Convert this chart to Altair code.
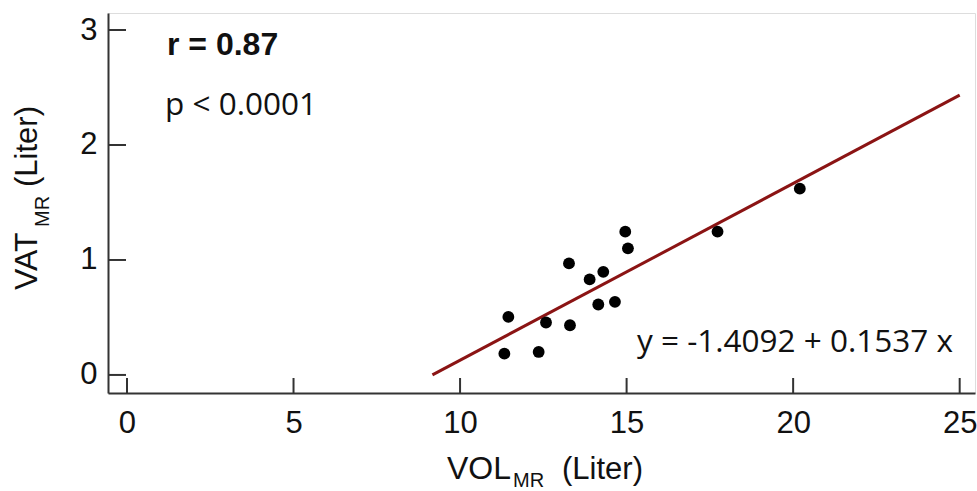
import altair as alt
import pandas as pd

# ---- data ----
vol_mr = [11.33, 11.45, 12.36, 12.58, 13.27, 13.30, 13.89, 14.15, 14.30, 14.65, 14.96, 15.04, 17.73, 20.20]
vat_mr = [0.185, 0.505, 0.200, 0.456, 0.970, 0.432, 0.831, 0.613, 0.897, 0.636, 1.246, 1.101, 1.246, 1.620]

intercept = -1.4092
slope = 0.1537
fit_x = [9.17, 25.0]

x_ticks = [0, 5, 10, 15, 20, 25]
y_ticks = [0, 1, 2, 3]

r_text = "r = 0.87"
p_text = "p < 0.0001"
eq_text = "y = -1.4092 + 0.1537 x"

pts = pd.DataFrame({"x": vol_mr, "y": vat_mr})
fit = pd.DataFrame({"x": fit_x, "y": [intercept + slope * v for v in fit_x]})

W, H = 867, 380
AX = "#333333"
LBL = "Liberation Sans"

xs = alt.Scale(domain=[-0.57, 25.46], nice=False, zero=False)
ys = alt.Scale(domain=[-0.157, 3.148], nice=False, zero=False)

x_axis = alt.Axis(values=x_ticks, ticks=False, grid=False, title=None, format="d",
                  domainColor=AX, domainWidth=2, labelFont=LBL, labelFontSize=31,
                  labelColor="#111111", labelPadding=15, labelFlush=False)
y_axis = alt.Axis(values=y_ticks, ticks=False, grid=False, title=None, format="d",
                  domainColor=AX, domainWidth=2, labelFont=LBL, labelFontSize=31,
                  labelColor="#111111", labelPadding=11)

points = alt.Chart(pts).mark_circle(size=140, color="black", opacity=1).encode(
    x=alt.X("x:Q", scale=xs, axis=x_axis),
    y=alt.Y("y:Q", scale=ys, axis=y_axis),
)

line = alt.Chart(fit).mark_line(color="#8B1414", strokeWidth=3).encode(
    x=alt.X("x:Q", scale=xs), y=alt.Y("y:Q", scale=ys)
)

ytick_rules = alt.Chart(pd.DataFrame({"v": y_ticks})).mark_rule(color=AX, strokeWidth=2).encode(
    y=alt.Y("v:Q", scale=ys), x=alt.value(0), x2=alt.value(18)
)
xtick_rules = alt.Chart(pd.DataFrame({"v": x_ticks})).mark_rule(color=AX, strokeWidth=2).encode(
    x=alt.X("v:Q", scale=xs), y=alt.value(H), y2=alt.value(H - 15)
)

def label(text, px, py, font=LBL, size=31, weight="normal", angle=0, align="left"):
    kw = dict(text=text, font=font, fontSize=size, fontWeight=weight,
              align=align, baseline="alphabetic", color="#111111")
    if angle:
        kw["angle"] = angle
    return alt.Chart(pd.DataFrame({"a": [0]})).mark_text(**kw).encode(
        x=alt.value(px), y=alt.value(py)
    )

texts = [
    label(r_text, 59, 42, weight="bold", size=32),
    label(p_text, 57, 102, font="Open Sans", size=31.5),
    label(eq_text, 529, 339, font="Open Sans", size=31.5),
    # x title
    label("VOL", 339, 466, size=32),
    label("MR", 405, 474, size=20),
    label("(Liter)", 454, 466, size=31),
    # y title
    label("VAT", -71, 277, size=32, angle=270),
    label("MR", -59, 214, size=20, angle=270),
    label("(Liter)", -71, 174, size=31, angle=270),
]

chart = alt.layer(line, points, ytick_rules, xtick_rules, *texts).properties(
    width=W, height=H,
    autosize=alt.AutoSizeParams(type="none"),
    padding={"left": 108, "top": 13, "right": 2, "bottom": 98},
).configure_view(stroke=None).configure(background="white")

chart.save("out.html", embed_options={"renderer": "svg", "actions": False})
